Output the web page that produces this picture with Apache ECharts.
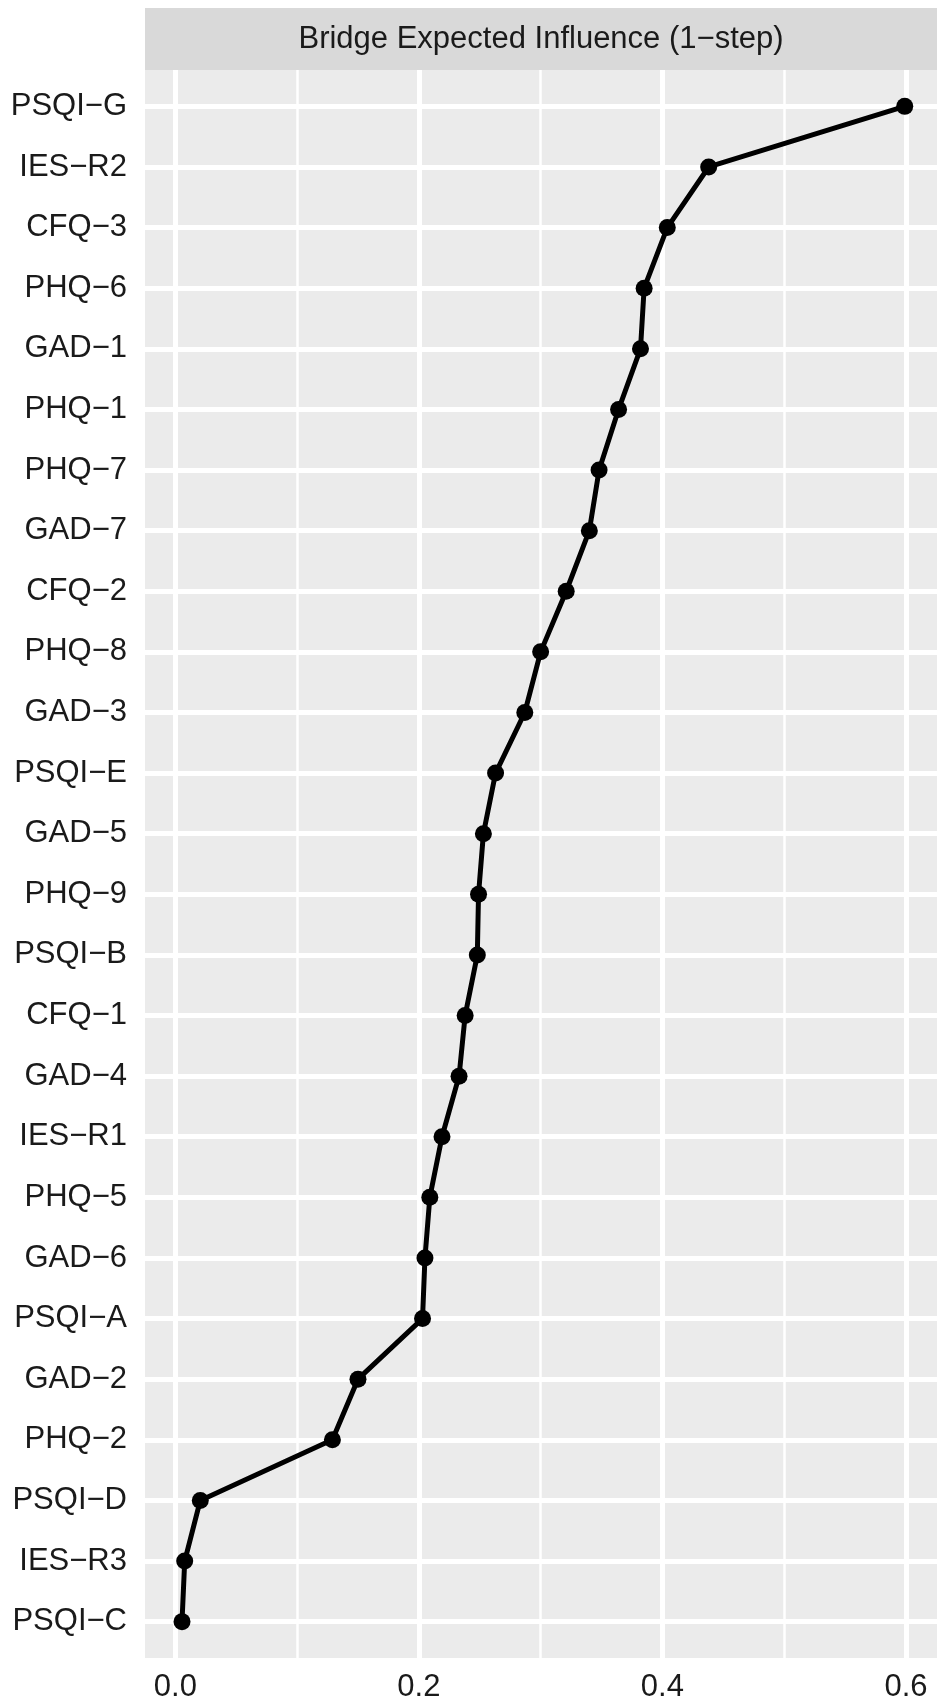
<!DOCTYPE html>
<html>
<head>
<meta charset="utf-8">
<title>Bridge Expected Influence (1-step)</title>
<script src="https://cdn.jsdelivr.net/npm/echarts@6/dist/echarts.min.js"></script>
<style>
  html, body { margin: 0; padding: 0; background: #ffffff; }
  #chart { width: 937px; height: 1704px; }
</style>
</head>
<body>
<div id="chart"></div>
<script>
// Nodes listed from top to bottom, as they appear on the y axis
const nodes = [
  'PSQI−G', 'IES−R2', 'CFQ−3', 'PHQ−6', 'GAD−1', 'PHQ−1', 'PHQ−7', 'GAD−7',
  'CFQ−2', 'PHQ−8', 'GAD−3', 'PSQI−E', 'GAD−5', 'PHQ−9', 'PSQI−B', 'CFQ−1',
  'GAD−4', 'IES−R1', 'PHQ−5', 'GAD−6', 'PSQI−A', 'GAD−2', 'PHQ−2', 'PSQI−D',
  'IES−R3', 'PSQI−C'
];
// Bridge expected influence (1-step) for each node, same order
const bridgeEI = [
  0.599, 0.438, 0.404, 0.385, 0.382, 0.364, 0.348, 0.340,
  0.321, 0.300, 0.287, 0.263, 0.253, 0.249, 0.248, 0.238,
  0.233, 0.219, 0.209, 0.205, 0.203, 0.150, 0.129, 0.0205,
  0.0077, 0.0055
];
const xTicks = [0, 0.2, 0.4, 0.6];
const xMinor = [0.1, 0.3, 0.5];
const panelTitle = 'Bridge Expected Influence (1−step)';

const n = nodes.length;
// y position index: bottom node = 0, top node = n - 1
const yIndex = nodes.map((_, i) => n - 1 - i);
const points = bridgeEI.map((v, i) => [v, yIndex[i]]);

const FONT = '"Liberation Sans", Arial, sans-serif';
const TEXT = '#1a1a1a';

const gridLines = []
  .concat(xTicks.map(v => ({ xAxis: v, lineStyle: { color: '#ffffff', width: 5, type: 'solid' } })))
  .concat(xMinor.map(v => ({ xAxis: v, lineStyle: { color: '#ffffff', width: 2.5, type: 'solid' } })))
  .concat(yIndex.map(v => ({ yAxis: v, lineStyle: { color: '#ffffff', width: 5, type: 'solid' } })));

const chart = echarts.init(document.getElementById('chart'), null, { renderer: 'canvas' });
chart.setOption({
  animation: false,
  backgroundColor: '#ffffff',
  grid: {
    left: 145, right: 0, top: 70, bottom: 46,
    show: true, backgroundColor: '#EBEBEB', borderWidth: 0
  },
  graphic: [
    {
      type: 'rect',
      shape: { x: 145, y: 8, width: 792, height: 62 },
      style: { fill: '#D9D9D9' },
      silent: true
    },
    {
      type: 'text',
      x: 541, y: 39,
      style: {
        text: panelTitle, fill: TEXT, font: '31px ' + FONT,
        align: 'center', verticalAlign: 'middle'
      },
      silent: true
    }
  ],
  xAxis: {
    type: 'value',
    min: -0.0249, max: 0.6255,
    axisLine: { show: false },
    splitLine: { show: false },
    axisTick: { show: true, length: 9, customValues: xTicks, lineStyle: { color: '#333333', width: 3.5 } },
    axisLabel: {
      show: true, customValues: xTicks, margin: 14,
      color: TEXT, fontSize: 31, fontFamily: FONT,
      formatter: v => v.toFixed(1)
    }
  },
  yAxis: {
    type: 'value',
    min: -0.6, max: n - 1 + 0.6,
    axisLine: { show: false },
    splitLine: { show: false },
    axisTick: { show: true, length: 8.5, customValues: yIndex, lineStyle: { color: '#333333', width: 3.5 } },
    axisLabel: {
      show: true, customValues: yIndex, margin: 18,
      color: TEXT, fontSize: 31, fontFamily: FONT,
      formatter: v => nodes[n - 1 - Math.round(v)]
    }
  },
  series: [
    {
      type: 'line',
      data: points,
      z: 3,
      symbol: 'circle',
      symbolSize: 17,
      itemStyle: { color: '#000000' },
      lineStyle: { color: '#000000', width: 5 },
      markLine: {
        silent: true,
        z: 1,
        symbol: 'none',
        label: { show: false },
        data: gridLines
      }
    }
  ]
});
</script>
</body>
</html>
